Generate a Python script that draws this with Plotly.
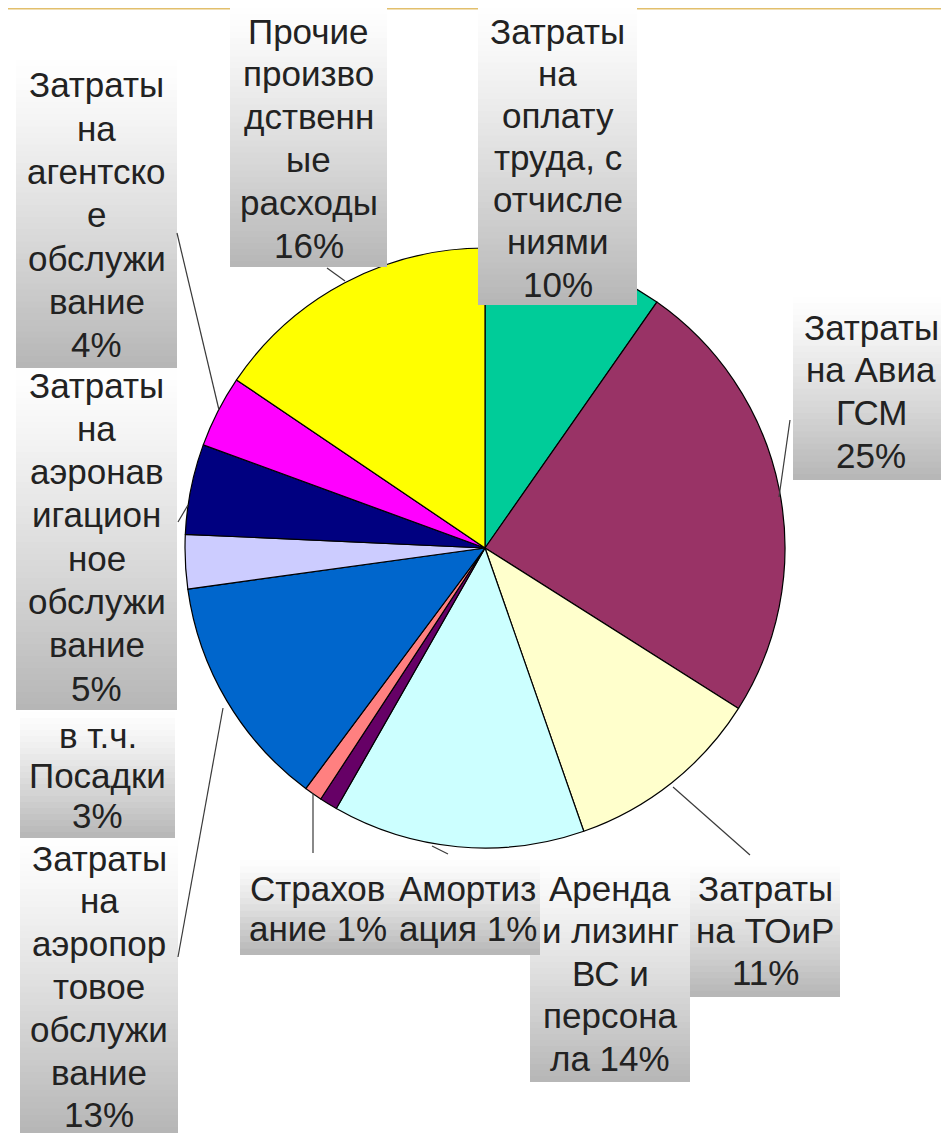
import plotly.graph_objects as go

# page is 949x1141 but the html body keeps an 8px margin, so the figure is inset
OFF = 8
FW, FH = 949 - 2 * OFF, 1141 - 2 * OFF

# cost structure, clockwise from 12 o'clock
categories = [
    "Затраты на оплату труда, с отчислениями",
    "Затраты на Авиа ГСМ",
    "Затраты на ТОиР",
    "Аренда и лизинг ВС и персонала",
    "Амортизация",
    "Страхование",
    "Затраты на аэропортовое обслуживание",
    "в т.ч. Посадки",
    "Затраты на аэронавигационное обслуживание",
    "Затраты на агентское обслуживание",
    "Прочие производственные расходы",
]
shares = [10, 25, 11, 14, 1, 1, 13, 3, 5, 4, 16]
colors = ["#00CC99", "#993366", "#FFFFCC", "#CCFFFF", "#660066", "#FF8080",
          "#0066CC", "#CCCCFF", "#000080", "#FF00FF", "#FFFF00"]
# label text as wrapped on the slide; {} takes the share
label_wraps = [
    "Затраты|на|оплату|труда, с|отчисле|ниями|{}%",
    "Затраты|на Авиа|ГСМ|{}%",
    "Затраты|на ТОиР|{}%",
    "Аренда|и лизинг|ВС и|персона|ла {}%",
    "Амортиз|ация {}%",
    "Страхов|ание {}%",
    "Затраты|на|аэропор|товое|обслужи|вание|{}%",
    "в т.ч.|Посадки|{}%",
    "Затраты|на|аэронав|игацион|ное|обслужи|вание|{}%",
    "Затраты|на|агентско|е|обслужи|вание|{}%",
    "Прочие|произво|дственн|ые|расходы|{}%",
]

# label boxes in page pixels: x0, x1, y0, y1, first line y, line step
boxes = [
    (478, 637, 8, 305, 31, 42.2),
    (793, 949, 297, 480, 327, 42.7),
    (690, 840, 860, 997, 888, 42),
    (530, 690, 860, 1082, 888, 42.5),
    (395, 540, 860, 955, 888, 40),
    (240, 395, 860, 955, 888, 40),
    (20, 178, 840, 1141, 858, 42.8),
    (20, 175, 712, 838, 735, 40),
    (16, 177, 368, 710, 385, 43.3),
    (16, 177, 60, 368, 85, 43.3),
    (230, 387, 8, 267, 31, 42.8),
]
leaders = [
    (327, 268, 345, 281),
    (790, 420, 779, 497),
    (673, 787, 750, 855),
    (432, 846, 448, 854),
    (313, 793, 313, 853),
    (223, 708, 178, 957),
    (178, 522, 188, 505),
    (177, 233, 219, 410),
]


def px(x):
    return (x - OFF) / FW


def py(y):
    return 1 - (y - OFF) / FH


fig = go.Figure(go.Pie(
    values=shares, labels=categories, sort=False, direction="clockwise", rotation=0,
    marker=dict(colors=colors, line=dict(color="#000000", width=1.2)),
    textinfo="none", hoverinfo="label+percent", showlegend=False,
    domain=dict(x=[px(185), px(785)], y=[py(848), py(248)]),
))

shapes = [dict(type="line", xref="paper", yref="paper", x0=0, x1=1, y0=1, y1=1,
               line=dict(color="#e2bf6c", width=3), layer="above")]
annotations = []

# grey gradient boxes drawn as thin strips, white at top
for (x0, x1, y0, y1, ly, step), wrap, share in zip(boxes, label_wraps, shares):
    y1 = min(y1, OFF + FH)
    n = max(int((y1 - y0) / 6), 1)
    h = (y1 - y0) / n
    for i in range(n):
        t = ((i + 0.5) / n) ** 1.2
        g = int(255 - t * (255 - 182))
        shapes.append(dict(type="rect", xref="paper", yref="paper", layer="above",
                           x0=px(x0), x1=px(min(x1, OFF + FW)), y0=py(y0 + i * h),
                           y1=py(min(y0 + (i + 1) * h + 1, y1)),
                           fillcolor=f"rgb({g},{g},{g})", line=dict(width=0)))
    for k, line in enumerate(wrap.format(share).split("|")):
        annotations.append(dict(x=px((x0 + x1) / 2), y=py(ly + k * step), xref="paper", yref="paper",
                                text=line, showarrow=False, xanchor="center", yanchor="middle",
                                font=dict(family="Liberation Sans, Arial, sans-serif", size=35, color="#222222")))

for x0, y0, x1, y1 in leaders:
    shapes.append(dict(type="line", xref="paper", yref="paper", x0=px(x0), y0=py(y0), x1=px(x1), y1=py(y1),
                       line=dict(color="#3a3a3a", width=1.2), layer="above"))

fig.update_layout(
    width=FW, height=FH,
    margin=dict(l=0, r=0, t=0, b=0),
    paper_bgcolor="white", plot_bgcolor="white",
    shapes=shapes, annotations=annotations,
)

fig.write_html("out.html")
